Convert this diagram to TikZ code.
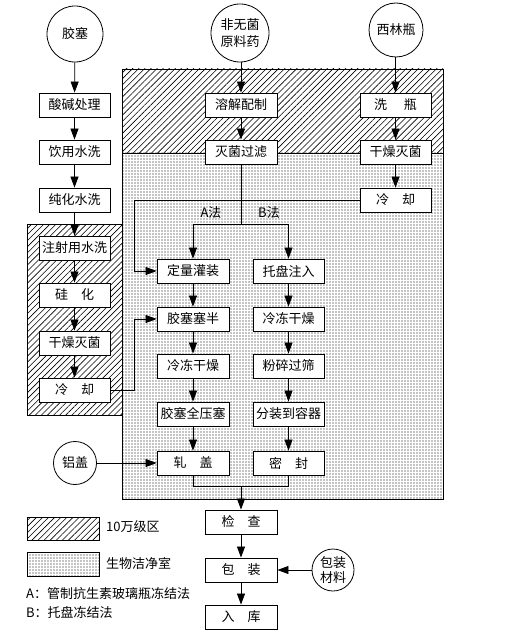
\documentclass[tikz,border=0pt]{standalone}
\usepackage{fontspec}
\setmainfont{Noto Sans CJK SC}
\usetikzlibrary{arrows.meta,patterns.meta}
\newcommand\myfs{\fontsize{13}{16}\selectfont}
\begin{document}
\begin{tikzpicture}[x=1pt,y=-1pt,
  box/.style={draw,line width=0.9pt,fill=white,minimum width=72pt,minimum height=24pt,inner sep=0pt,font=\myfs},
  circ/.style={draw,line width=0.8pt,fill=white,circle,inner sep=0pt,align=center,font=\myfs},
  arr/.style={line width=0.8pt,-{Triangle[length=11pt,width=8pt]}},
  ln/.style={line width=0.8pt},
  hatch/.style={draw,line width=0.9pt,pattern={Lines[angle=45,distance=4.3pt,line width=0.6pt]}},
  dotz/.style={draw,line width=0.9pt,pattern={Dots[distance=3pt,radius=0.55pt]}},
  lbl/.style={font=\myfs,inner sep=0pt}
]
\useasboundingbox (0,0) rectangle (512,639);
% zones
\path[hatch] (122,69) rectangle (443,153);
\path[dotz] (122,153) rectangle (443,499);
\path[hatch] (27,224) rectangle (122,415);

% circles
\node[circ,minimum size=56pt] (c1) at (75,34) {胶塞};
\node[circ,minimum size=58pt,font=\fontsize{13}{17}\selectfont] (c2) at (240,33) {非无菌\\原料药};
\node[circ,minimum size=54pt] (c3) at (396,30) {西林瓶};
\node[circ,minimum size=43pt] (c4) at (75,463) {铝盖};
\node[circ,minimum size=42pt,font=\fontsize{13}{15}\selectfont] (c5) at (333,570) {包装\\材料};

% left column
\node[box,minimum width=71pt] (l1) at (74.5,105) {酸碱处理};
\node[box,minimum width=71pt] (l2) at (74.5,152) {饮用水洗};
\node[box,minimum width=71pt] (l3) at (74.5,200) {纯化水洗};
\node[box,minimum width=71pt] (l4) at (74.5,248) {注射用水洗};
\node[box,minimum width=71pt] (l5) at (74.5,295) {硅\hspace{1em}化};
\node[box,minimum width=71pt] (l6) at (74.5,343) {干燥灭菌};
\node[box,minimum width=71pt] (l7) at (74.5,390) {冷\hspace{1em}却};

% middle
\node[box] (m1) at (241,105) {溶解配制};
\node[box] (m2) at (241,152) {灭菌过滤};

% right
\node[box,minimum width=71pt] (r1) at (395.5,105) {洗\hspace{1.3em}瓶};
\node[box,minimum width=71pt] (r2) at (395.5,152) {干燥灭菌};
\node[box,minimum width=71pt] (r3) at (395.5,200) {冷\hspace{1em}却};

% A column
\node[box] (a1) at (193,271) {定量灌装};
\node[box] (a2) at (193,319) {胶塞塞半};
\node[box] (a3) at (193,366) {冷冻干燥};
\node[box] (a4) at (193,414) {胶塞全压塞};
\node[box] (a5) at (193,463) {轧\hspace{1em}盖};

% B column
\node[box,minimum width=71pt] (b1) at (288.5,271) {托盘注入};
\node[box,minimum width=71pt] (b2) at (288.5,319) {冷冻干燥};
\node[box,minimum width=71pt] (b3) at (288.5,366) {粉碎过筛};
\node[box,minimum width=71pt] (b4) at (288.5,414) {分装到容器};
\node[box,minimum width=71pt] (b5) at (288.5,463) {密\hspace{1em}封};

% bottom
\node[box] (d1) at (241,522) {检\hspace{1em}查};
\node[box] (d2) at (241,570) {包\hspace{1em}装};
\node[box] (d3) at (241,617) {入\hspace{1em}库};

% labels
\node[lbl] (la) at (211,213) {A法};
\node[lbl] (lb) at (269,213) {B法};

% legend
\node[hatch,minimum width=72pt,minimum height=23pt,inner sep=0pt] (g1) at (63,528.5) {};
\node[dotz,minimum width=72pt,minimum height=24pt,inner sep=0pt] (g2) at (63,564) {};
\node[lbl,anchor=west] (t1) at (106,527) {10万级区};
\node[lbl,anchor=west] (t2) at (106,563) {生物洁净室};
\node[lbl,anchor=west] (t3) at (26,594) {A：管制抗生素玻璃瓶冻结法};
\node[lbl,anchor=west] (t4) at (26,612) {B：托盘冻结法};

% connectors
\draw[arr] (c1) -- (l1);
\draw[arr] (l1) -- (l2);
\draw[arr] (l2) -- (l3);
\draw[arr] (l3) -- (l4);
\draw[arr] (l4) -- (l5);
\draw[arr] (l5) -- (l6);
\draw[arr] (l6) -- (l7);

\draw[arr] (c2.south -| m1) -- (m1);
\draw[arr] (m1) -- (m2);

\draw[arr] (c3.south -| r1) -- (r1);
\draw[arr] (r1) -- (r2);
\draw[arr] (r2) -- (r3);

\coordinate (split) at (241,224);
\draw[ln] (m2) -- (split);
\draw[arr] (split) -| (a1);
\draw[arr] (split) -| (b1);

\coordinate (k1) at (134,200);
\draw[arr] (r3.west) -- (k1) |- (a1.west);
\coordinate (k2) at (134,390);
\draw[arr] (l7.east) -- (k2) |- (a2.west);

\draw[arr] (a1) -- (a2);
\draw[arr] (a2) -- (a3);
\draw[arr] (a3) -- (a4);
\draw[arr] (a4) -- (a5);
\draw[arr] (b1) -- (b2);
\draw[arr] (b2) -- (b3);
\draw[arr] (b3) -- (b4);
\draw[arr] (b4) -- (b5);

\draw[arr] (c4) -- (a5);

\coordinate (mg) at (241,486);
\draw[ln] (a5.south) |- (mg);
\draw[ln] (b5.south) |- (mg);
\draw[arr] (mg) -- (d1);
\draw[arr] (d1) -- (d2);
\draw[arr] (d2) -- (d3);
\draw[arr] (c5) -- (d2);
\end{tikzpicture}
\end{document}
